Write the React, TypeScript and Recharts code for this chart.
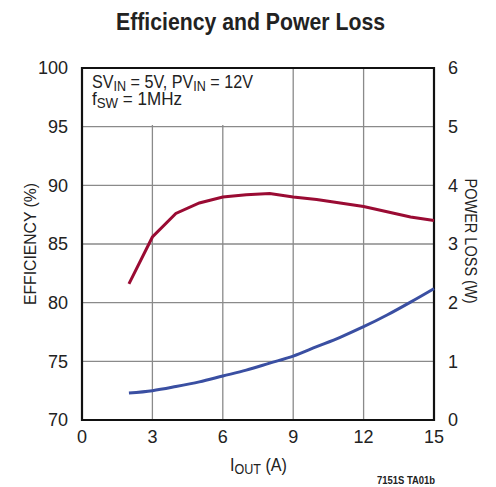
import { ComposedChart, Line, XAxis, YAxis, CartesianGrid, ReferenceArea } from 'recharts'

const current = [2, 3, 4, 5, 6, 7, 8, 9, 10, 11, 12, 13, 14, 15]
const efficiency = [81.6, 85.6, 87.6, 88.5, 89.0, 89.2, 89.3, 89.0, 88.8, 88.5, 88.2, 87.75, 87.3, 87.0]
const powerLoss = [0.46, 0.5, 0.57, 0.65, 0.75, 0.85, 0.97, 1.09, 1.25, 1.41, 1.59, 1.79, 2.01, 2.24]
const xTicks = [0, 3, 6, 9, 12, 15]
const effTicks = [70, 75, 80, 85, 90, 95, 100]
const lossTicks = [0, 1, 2, 3, 4, 5, 6]

const data = current.map((c, i) => ({ iout: c, eff: efficiency[i], loss: powerLoss[i] }))

const font = '"Liberation Sans", Arial, sans-serif'
const tickStyle = { fontSize: 18, fill: '#222', fontFamily: font }

export default function App() {
  return (
    <div style={{ position: 'absolute', left: 0, top: 0, width: 496, height: 487, background: '#fff' }}>
      <ComposedChart width={496} height={487} data={data} margin={{ top: 68, right: 0, left: 0, bottom: 0 }}>
        <CartesianGrid yAxisId="eff" stroke="#8a8a8a" strokeWidth={1.3} />
        <XAxis
          dataKey="iout"
          type="number"
          domain={[0, 15]}
          ticks={xTicks}
          height={67}
          tick={tickStyle}
          tickLine={false}
          axisLine={false}
          tickMargin={4}
        />
        <YAxis
          yAxisId="eff"
          domain={[70, 100]}
          ticks={effTicks}
          width={82}
          tick={tickStyle}
          tickLine={false}
          axisLine={false}
          tickMargin={8}
        />
        <YAxis
          yAxisId="loss"
          orientation="right"
          domain={[0, 6]}
          ticks={lossTicks}
          width={62}
          tick={tickStyle}
          tickLine={false}
          axisLine={false}
          tickMargin={8}
        />
        <ReferenceArea yAxisId="eff" x1={0} x2={7.6} y1={95.15} y2={100} fill="#fff" fillOpacity={1} stroke="none" />
        <ReferenceArea yAxisId="eff" x1={0} x2={15} y1={70} y2={100} fill="none" stroke="#111" strokeWidth={2.2} />
        <Line yAxisId="eff" dataKey="eff" stroke="#9a0b33" strokeWidth={3} dot={false} type="linear" isAnimationActive={false} />
        <Line yAxisId="loss" dataKey="loss" stroke="#3a4fa2" strokeWidth={3} dot={false} type="monotone" isAnimationActive={false} />
      </ComposedChart>
      <svg width={496} height={487} style={{ position: 'absolute', left: 0, top: 0, pointerEvents: 'none' }}>
        <text x={116} y={30} textLength={269} lengthAdjust="spacingAndGlyphs" fontFamily={font} fontWeight="bold" fontSize={23} fill="#222">
          Efficiency and Power Loss
        </text>
        <text x={92} y={88} textLength={161} lengthAdjust="spacingAndGlyphs" fontFamily={font} fontSize={18} fill="#222">
          SV<tspan fontSize={14} dy={3}>IN</tspan>
          <tspan dy={-3}> = 5V, PV</tspan>
          <tspan fontSize={14} dy={3}>IN</tspan>
          <tspan dy={-3}> = 12V</tspan>
        </text>
        <text x={92} y={105} textLength={90} lengthAdjust="spacingAndGlyphs" fontFamily={font} fontSize={18} fill="#222">
          f<tspan fontSize={14} dy={3}>SW</tspan>
          <tspan dy={-3}> = 1MHz</tspan>
        </text>
        <text
          x={0}
          y={0}
          transform="translate(36 244) rotate(-90)"
          textAnchor="middle"
          textLength={122}
          lengthAdjust="spacingAndGlyphs"
          fontFamily={font}
          fontSize={17}
          fill="#222"
        >
          EFFICIENCY (%)
        </text>
        <text
          x={0}
          y={0}
          transform="translate(465 241) rotate(90)"
          textAnchor="middle"
          textLength={125}
          lengthAdjust="spacingAndGlyphs"
          fontFamily={font}
          fontSize={17}
          fill="#222"
        >
          POWER LOSS (W)
        </text>
        <text x={230} y={471} textLength={57} lengthAdjust="spacingAndGlyphs" fontFamily={font} fontSize={18} fill="#222">
          I<tspan fontSize={14} dy={3}>OUT</tspan>
          <tspan dy={-3}> (A)</tspan>
        </text>
        <text x={435} y={484} textAnchor="end" textLength={58} lengthAdjust="spacingAndGlyphs" fontFamily={font} fontWeight="bold" fontSize={11} fill="#222">
          7151S TA01b
        </text>
      </svg>
    </div>
  )
}
